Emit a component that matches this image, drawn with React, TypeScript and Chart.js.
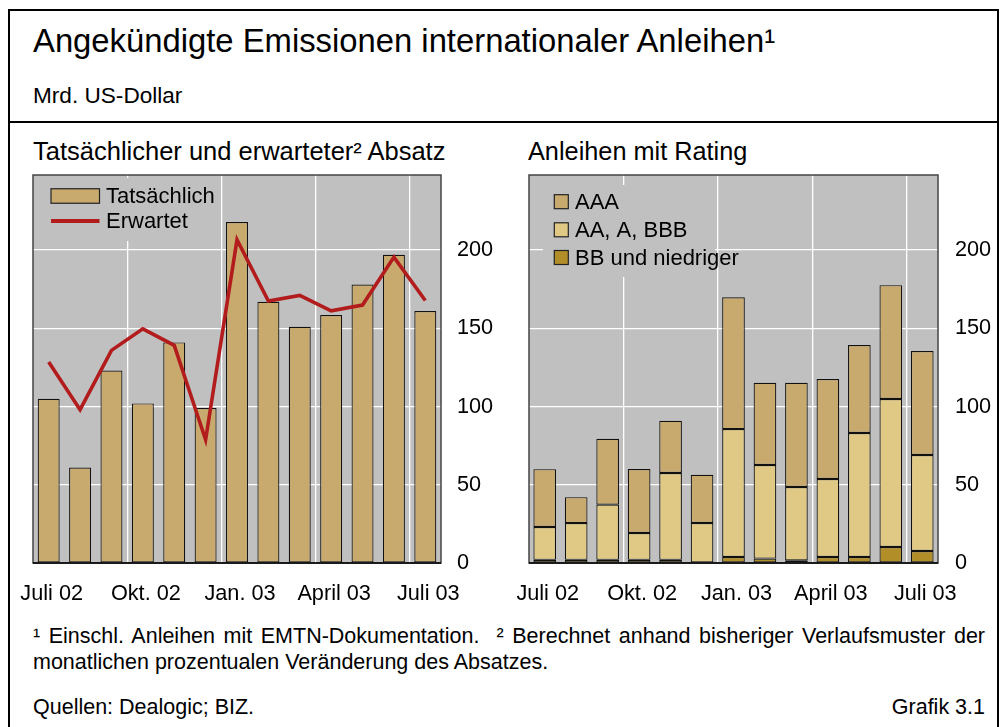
import React, { useEffect, useRef } from "react";
import { Chart, registerables } from "chart.js";
Chart.register(...registerables);

const FONT = "'Liberation Sans', Arial, Helvetica, sans-serif";

// ---- data ----
const months = ["Juli 02", "Aug. 02", "Sept. 02", "Okt. 02", "Nov. 02", "Dez. 02", "Jan. 03", "Feb. 03", "März 03", "April 03", "Mai 03", "Juni 03", "Juli 03"];
const labeledMonths = ["Juli 02", "Okt. 02", "Jan. 03", "April 03", "Juli 03"];
const quarterStartIdx = [3, 6, 9, 12];
const yTicks = [0, 50, 100, 150, 200];

const actualIssuance = [105, 61, 123, 102, 141, 99, 218, 167, 151, 158.5, 178, 197, 161];
const expectedIssuance = [128.4, 98, 135.9, 149.7, 139.1, 78.8, 206.6, 167.4, 171, 161.2, 164.9, 195.5, 167.8];

const ratingAAA = [37, 16.6, 42.1, 40.9, 33.4, 30.8, 84.2, 52.6, 66.6, 63.9, 56.2, 72.8, 66.5];
const ratingAAtoBBB = [21, 23.5, 35.3, 17.2, 55.5, 25.6, 81.8, 59.8, 46.9, 49.9, 79.3, 94.6, 61.3];
const ratingBBandLower = [2, 2, 2, 2, 2, 0, 3.8, 2.8, 1.7, 3.8, 3.8, 10.2, 7.7];

// ---- styles ----
const GRAY = "#c0c0c0";
const TAN = "#c9aa6e";
const LIGHT = "#e0c985";
const DARK = "#b18e28";
const RED = "#b21c1c";
const TICK_SIZE = 21.7;

const framePlugin = {
  id: "frame",
  beforeDraw(chart: any) {
    const { ctx, chartArea: a } = chart;
    ctx.save();
    ctx.fillStyle = GRAY;
    ctx.fillRect(a.left, a.top, a.width, a.height);
    ctx.restore();
  },
  beforeDatasetsDraw(chart: any, _args: any, opts: any) {
    const { ctx, chartArea: a } = chart;
    if (!opts || !opts.bg) return;
    const [x0, y0, x1, y1] = opts.bg;
    ctx.save();
    ctx.fillStyle = GRAY;
    ctx.fillRect(a.left + x0, a.top + y0, x1 - x0, y1 - y0);
    ctx.restore();
  },
  afterDatasetsDraw(chart: any, _args: any, opts: any) {
    const { ctx, chartArea: a } = chart;
    if (!opts || !opts.items) return;
    ctx.save();
    ctx.font = `${opts.fontSize}px ${FONT}`;
    ctx.textBaseline = "middle";
    ctx.textAlign = "left";
    for (const it of opts.items) {
      const ds = chart.data.datasets[it.datasetIndex];
      const cy = a.top + it.cy;
      if (it.kind === "line") {
        ctx.strokeStyle = ds.borderColor;
        ctx.lineWidth = it.lineWidth;
        ctx.beginPath();
        ctx.moveTo(a.left + it.x, cy);
        ctx.lineTo(a.left + it.x + it.w, cy);
        ctx.stroke();
      } else {
        ctx.fillStyle = ds.backgroundColor;
        ctx.fillRect(a.left + it.x, cy - it.h / 2, it.w, it.h);
        ctx.strokeStyle = "#222";
        ctx.lineWidth = 1.2;
        ctx.strokeRect(a.left + it.x, cy - it.h / 2, it.w, it.h);
      }
      ctx.fillStyle = "#000";
      ctx.fillText(ds.label, a.left + it.tx, cy + 1);
    }
    ctx.restore();
  },
  afterDraw(chart: any) {
    const { ctx, chartArea: a } = chart;
    ctx.save();
    ctx.strokeStyle = "#444";
    ctx.lineWidth = 1.5;
    ctx.strokeRect(a.left, a.top, a.width, a.height);
    ctx.strokeStyle = "#000";
    ctx.lineWidth = 1.6;
    ctx.beginPath();
    ctx.moveTo(a.left, a.bottom);
    ctx.lineTo(a.right, a.bottom);
    ctx.stroke();
    ctx.restore();
  },
};

function makeScales(yWidth: number, yPad: number, stacked: boolean) {
  return {
    x: {
      stacked,
      grid: {
        offset: true,
        drawTicks: false,
        lineWidth: 1.3,
        color: (c: any) => (quarterStartIdx.includes(c.index) ? "#ffffff" : "rgba(0,0,0,0)"),
      },
      border: { display: false },
      ticks: {
        autoSkip: false,
        maxRotation: 0,
        padding: 18,
        labelOffset: 3,
        color: "#000",
        font: { family: FONT, size: TICK_SIZE },
        callback: (_v: any, i: number) => (labeledMonths.includes(months[i]) ? months[i] : ""),
      },
      afterFit: (s: any) => {
        s.height = 57;
        s.paddingLeft = 0;
        s.paddingRight = 0;
        s.paddingTop = 0;
        s.paddingBottom = 0;
      },
    },
    y: {
      position: "right",
      stacked,
      min: 0,
      max: 248,
      grid: {
        drawTicks: false,
        lineWidth: 1.3,
        color: (c: any) => (c.tick && c.tick.value > 0 ? "#ffffff" : "rgba(0,0,0,0)"),
      },
      border: { display: false },
      ticks: {
        padding: yPad,
        color: "#000",
        font: { family: FONT, size: TICK_SIZE },
      },
      afterBuildTicks: (s: any) => {
        s.ticks = yTicks.map((v) => ({ value: v }));
      },
      afterFit: (s: any) => {
        s.width = yWidth;
        s.paddingLeft = 0;
        s.paddingRight = 0;
        s.paddingTop = 0;
        s.paddingBottom = 0;
      },
    },
  };
}

function LeftChart() {
  const ref = useRef<HTMLCanvasElement>(null);
  useEffect(() => {
    const chart = new Chart(ref.current as HTMLCanvasElement, {
      type: "bar",
      data: {
        labels: months,
        datasets: [
          {
            type: "bar",
            label: "Tatsächlich",
            data: actualIssuance,
            backgroundColor: TAN,
            borderColor: "#111",
            borderWidth: 1.2,
            borderSkipped: false,
            barPercentage: 0.7,
            categoryPercentage: 1,
            order: 2,
          } as any,
          {
            type: "line",
            label: "Erwartet",
            data: expectedIssuance,
            borderColor: RED,
            backgroundColor: RED,
            borderWidth: 3.6,
            pointRadius: 0,
            tension: 0,
            order: 1,
          } as any,
        ],
      },
      options: {
        animation: false,
        responsive: false,
        maintainAspectRatio: false,
        layout: { padding: { left: 25, top: 15, right: 0, bottom: 0 } },
        plugins: {
          legend: { display: false },
          tooltip: { enabled: false },
          frame: {
            bg: [12, 3, 182, 66],
            fontSize: 22,
            items: [
              { datasetIndex: 0, kind: "box", x: 18, w: 48.5, h: 14.5, cy: 21, tx: 73 },
              { datasetIndex: 1, kind: "line", x: 18, w: 48.5, lineWidth: 4, cy: 46, tx: 73 },
            ],
          },
        } as any,
        scales: makeScales(59, 16, false) as any,
      },
      plugins: [framePlugin],
    });
    return () => chart.destroy();
  }, []);
  return <canvas ref={ref} width={492} height={460} style={{ position: "absolute", left: 8, top: 160, width: 492, height: 460 }} />;
}

function RightChart() {
  const ref = useRef<HTMLCanvasElement>(null);
  useEffect(() => {
    const common = { borderColor: "#111", borderWidth: 1.2, borderSkipped: false, barPercentage: 0.72, categoryPercentage: 1 };
    const chart = new Chart(ref.current as HTMLCanvasElement, {
      type: "bar",
      data: {
        labels: months,
        datasets: [
          { label: "BB und niedriger", data: ratingBBandLower, backgroundColor: DARK, ...common } as any,
          { label: "AA, A, BBB", data: ratingAAtoBBB, backgroundColor: LIGHT, ...common } as any,
          { label: "AAA", data: ratingAAA, backgroundColor: TAN, ...common } as any,
        ],
      },
      options: {
        animation: false,
        responsive: false,
        maintainAspectRatio: false,
        layout: { padding: { left: 24, top: 15, right: 0, bottom: 0 } },
        plugins: {
          legend: { display: false },
          tooltip: { enabled: false },
          frame: {
            bg: [14, 10, 186, 102],
            fontSize: 22,
            items: [
              { datasetIndex: 2, kind: "box", x: 25.3, w: 14, h: 14, cy: 26.7, tx: 46 },
              { datasetIndex: 1, kind: "box", x: 25.3, w: 14, h: 14, cy: 54.8, tx: 46 },
              { datasetIndex: 0, kind: "box", x: 25.3, w: 14, h: 14, cy: 82.5, tx: 46 },
            ],
          },
        } as any,
        scales: makeScales(62, 17, true) as any,
      },
      plugins: [framePlugin],
    });
    return () => chart.destroy();
  }, []);
  return <canvas ref={ref} width={495} height={460} style={{ position: "absolute", left: 505, top: 160, width: 495, height: 460 }} />;
}

const txt = (left: number, top: number, size: number, extra: any = {}) => ({
  position: "absolute" as const,
  left,
  top,
  fontSize: size,
  lineHeight: "1",
  fontFamily: FONT,
  color: "#000",
  whiteSpace: "nowrap" as const,
  ...extra,
});

export default function App() {
  return (
    <div style={{ position: "fixed", left: 0, top: 0, width: 1002, height: 727, overflow: "hidden", background: "#fff" }}>
      <div style={{ position: "absolute", left: 8, top: 9, width: 987, height: 800, border: "2px solid #000" }} />
      <div style={{ position: "absolute", left: 8, top: 121, width: 991, height: 2, background: "#000" }} />
      <div style={txt(33, 25, 32.8)}>Angekündigte Emissionen internationaler Anleihen¹</div>
      <div style={txt(33, 85, 22.6)}>Mrd. US-Dollar</div>
      <div style={txt(33, 139, 25.5)}>Tatsächlicher und erwarteter² Absatz</div>
      <div style={txt(528, 139, 25.3)}>Anleihen mit Rating</div>
      <LeftChart />
      <RightChart />
      <div style={txt(33, 626, 21.5, { width: 952, textAlign: "justify", textAlignLast: "justify", whiteSpace: "normal" })}>
        ¹ Einschl. Anleihen mit EMTN-Dokumentation.{"\u00a0\u00a0"}² Berechnet anhand bisheriger Verlaufsmuster der
      </div>
      <div style={txt(33, 652, 21.5)}>monatlichen prozentualen Veränderung des Absatzes.</div>
      <div style={txt(33, 697, 21.5)}>Quellen: Dealogic; BIZ.</div>
      <div style={txt(985, 697, 21.5, { transform: "translateX(-100%)" })}>Grafik 3.1</div>
    </div>
  );
}
